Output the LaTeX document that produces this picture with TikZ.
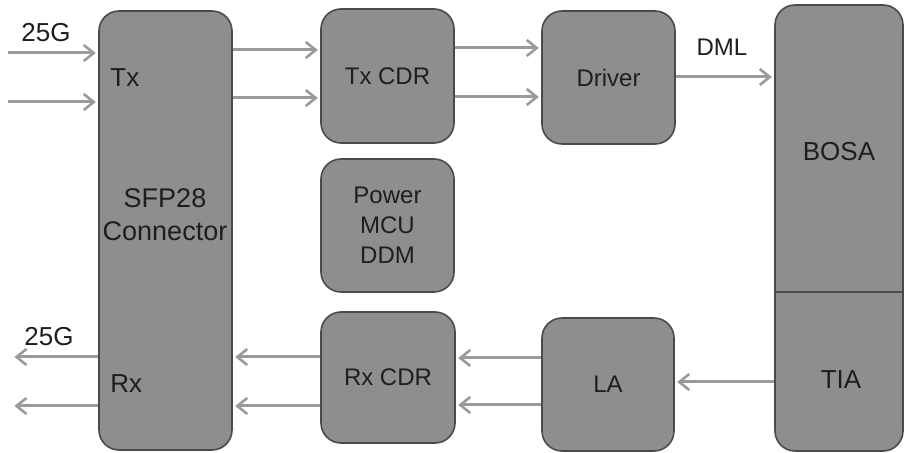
\documentclass[tikz,border=0pt]{standalone}
\usepackage{fontspec}
\setmainfont{Liberation Sans}
\usetikzlibrary{arrows.meta}
\definecolor{boxfill}{HTML}{8E8E8E}
\definecolor{boxline}{HTML}{4A4A4A}
\definecolor{arrowc}{HTML}{9A9A9A}
\definecolor{txt}{HTML}{1E1E1E}
\begin{document}
\begin{tikzpicture}[x=0.5pt,y=-0.5pt,
  blk/.style={draw=boxline, line width=0.8pt, fill=boxfill, rounded corners=10pt, inner sep=0pt, text=txt, align=center, font=\fontsize{12}{15}\selectfont},
  arr/.style={draw=arrowc, line width=1.5pt, shorten >=1.2pt, -{Straight Barb[length=5pt,width=8pt,line width=1.3pt]}},
  lbl/.style={text=txt, inner sep=0pt, font=\fontsize{13}{15}\selectfont}]
\useasboundingbox[fill=white] (0,0) rectangle (905,453);
% blocks
\node[blk, minimum width=66.5pt, minimum height=219.5pt] (sfp) at (165.5,230.5) {};
\node[blk, minimum width=66.5pt, minimum height=67pt] (txcdr) at (387.5,76) {Tx CDR};
\node[blk, minimum width=66.5pt, minimum height=66.5pt] (driver) at (608.5,77.5) {Driver};
\node[blk, minimum width=66.5pt, minimum height=66.5pt] (pwr) at (387.5,225.5) {Power\\MCU\\DDM};
\node[blk, minimum width=67pt, minimum height=65.5pt] (rxcdr) at (388,377.5) {Rx CDR};
\node[blk, minimum width=66pt, minimum height=66.5pt] (la) at (608,384.5) {LA};
\node[blk, minimum width=64pt, minimum height=223pt] (bosa) at (839,228) {};
\draw[boxline, line width=0.8pt] (bosa.west |- 0,292) -- (bosa.east |- 0,292);
% labels
\node[lbl, align=center, font=\fontsize{13.5}{16.5}\selectfont] (sfpt) at (165,215) {SFP28\\Connector};
\node[lbl] (bosat) at (839,152) {BOSA};
\node[lbl] (tiat) at (841,380) {TIA};
\node[lbl] (g1) at (46,33) {25G};
\node[lbl] (g2) at (49,337) {25G};
\node[lbl, anchor=west] (tx) at (110,78) {Tx};
\node[lbl, anchor=west] (rx) at (110,384) {Rx};
\node[lbl, font=\fontsize{12}{14}\selectfont] (dml) at (722,47) {DML};
% free ends
\coordinate (in1) at (8,53);
\coordinate (in2) at (8,102);
\coordinate (out1) at (12,357);
\coordinate (out2) at (12,406);
% arrows
\draw[arr] (in1) -- (sfp.west |- in1);
\draw[arr] (in2) -- (sfp.west |- in2);
\draw[arr] (sfp.east |- 0,50) -- (txcdr.west |- 0,50);
\draw[arr] (sfp.east |- 0,98) -- (txcdr.west |- 0,98);
\draw[arr] (txcdr.east |- 0,48) -- (driver.west |- 0,48);
\draw[arr] (txcdr.east |- 0,97) -- (driver.west |- 0,97);
\draw[arr] (driver.east |- 0,77) -- (bosa.west |- 0,77);
\draw[arr] (bosa.west |- 0,382) -- (la.east |- 0,382);
\draw[arr] (la.west |- 0,358) -- (rxcdr.east |- 0,358);
\draw[arr] (la.west |- 0,405) -- (rxcdr.east |- 0,405);
\draw[arr] (rxcdr.west |- 0,357) -- (sfp.east |- 0,357);
\draw[arr] (rxcdr.west |- 0,406) -- (sfp.east |- 0,406);
\draw[arr] (sfp.west |- out1) -- (out1);
\draw[arr] (sfp.west |- out2) -- (out2);
\end{tikzpicture}
\end{document}
